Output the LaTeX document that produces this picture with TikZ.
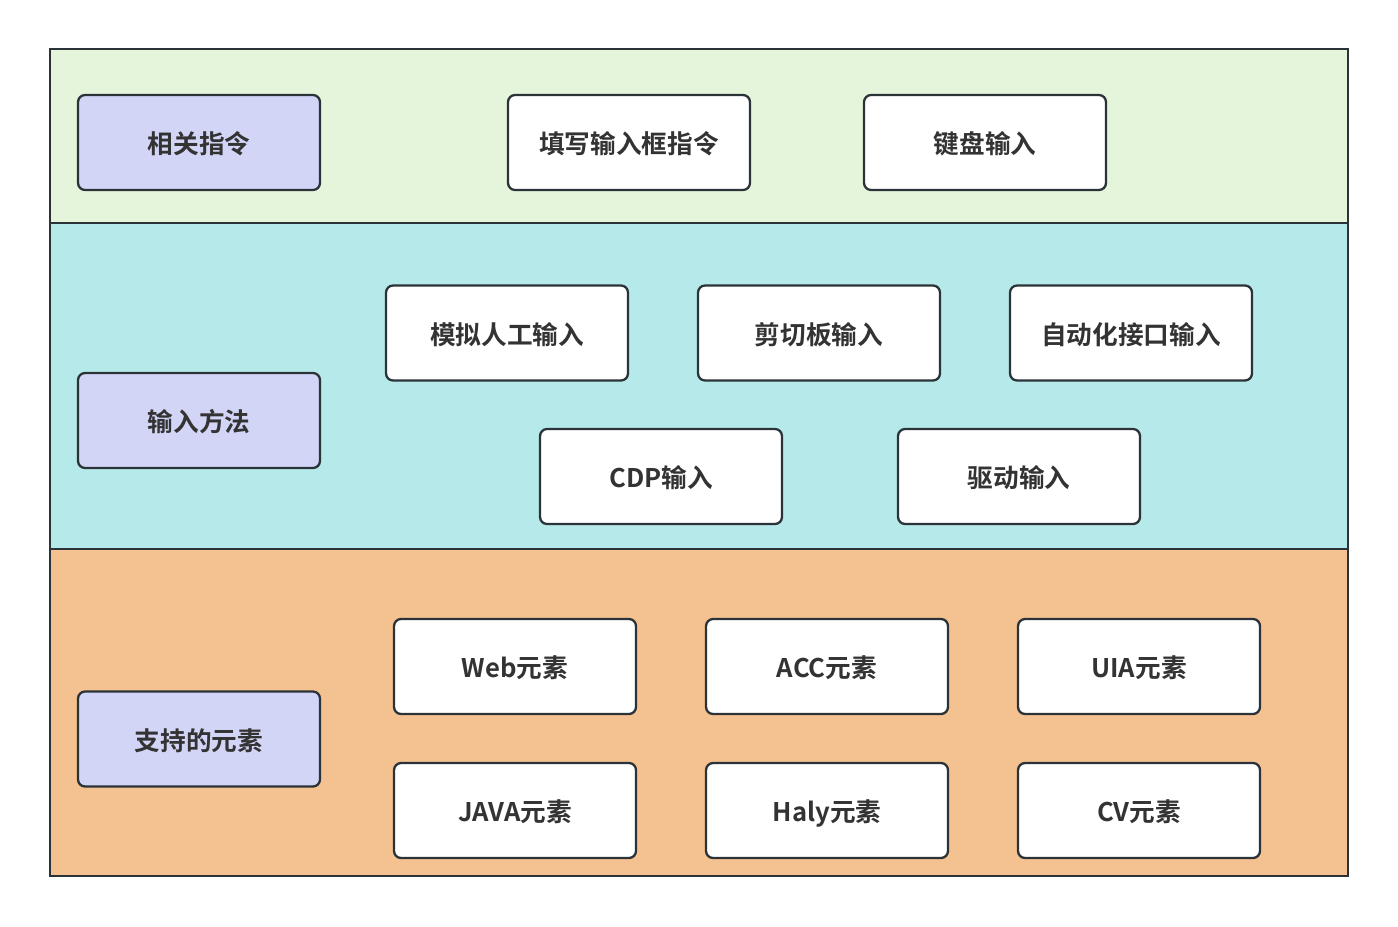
\documentclass[tikz,border=0pt]{standalone}
\usepackage{fontspec}
\setmainfont{Noto Sans CJK SC}[BoldFont={Noto Sans CJK SC Bold}]
\usepackage{tikz}
\definecolor{bandgreen}{HTML}{E5F5DC}
\definecolor{bandcyan}{HTML}{B6EAEA}
\definecolor{bandorange}{HTML}{F4C290}
\definecolor{headpurple}{HTML}{D3D5F6}
\definecolor{edgedark}{HTML}{2B3338}
\definecolor{textdark}{HTML}{333333}
\tikzset{
	itembox/.style={draw=edgedark, line width=1.3pt, fill=white, rounded corners=4pt,
		minimum width=4.84cm, minimum height=1.9cm, inner sep=0pt,
		text height=1.3em, text depth=0em,
		text=textdark, font=\bfseries\fontsize{14.6}{17}\selectfont},
	headbox/.style={itembox, fill=headpurple},
	band/.style={draw=edgedark, line width=1.3pt}
}

\begin{document}
\begin{tikzpicture}[x=0.02cm, y=-0.02cm]
		%%%%% START %%%%%
		\useasboundingbox (0, 0) rectangle (1398, 926);
		
		\draw[band, fill=bandgreen] (50, 49) rectangle (1348, 223);
		\draw[band, fill=bandcyan] (50, 223) rectangle (1348, 549);
		\draw[band, fill=bandorange] (50, 549) rectangle (1348, 876);
		
		% top layer
		\node[headbox] (cmd) at (199, 142.5) {相关指令};
		\node[itembox] (fill) at (629, 142.5) {填写输入框指令};
		\node[itembox] (keyboard) at (985, 142.5) {键盘输入};
		
		% middle layer
		\node[headbox] (method) at (199, 420.5) {输入方法};
		\node[itembox] (simulate) at (507, 333) {模拟人工输入};
		\node[itembox] (clipboard) at (819, 333) {剪切板输入};
		\node[itembox] (autoapi) at (1131, 333) {自动化接口输入};
		\node[itembox] (cdp) at (661, 476.5) {CDP输入};
		\node[itembox] (driver) at (1019, 476.5) {驱动输入};
		
		% bottom layer
		\node[headbox] (element) at (199, 739) {支持的元素};
		\node[itembox] (web) at (515, 666.5) {Web元素};
		\node[itembox] (acc) at (827, 666.5) {ACC元素};
		\node[itembox] (uia) at (1139, 666.5) {UIA元素};
		\node[itembox] (java) at (515, 810.5) {JAVA元素};
		\node[itembox] (haly) at (827, 810.5) {Haly元素};
		\node[itembox] (cv) at (1139, 810.5) {CV元素};
		%%%%% END %%%%%
	\end{tikzpicture}
\end{document}
